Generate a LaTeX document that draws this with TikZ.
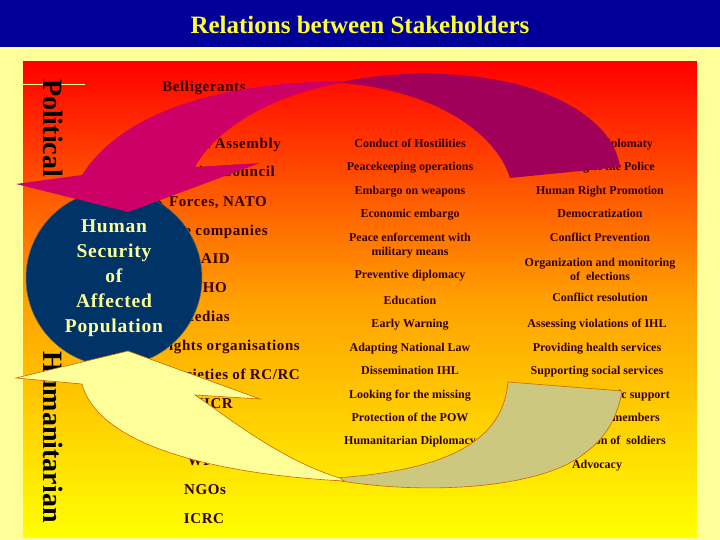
\documentclass[tikz,border=0pt]{standalone}
\usepackage{fontspec}
\setmainfont{Liberation Serif}
\newfontfamily\widefont[LetterSpace=4]{Liberation Serif}
\usepackage{xcolor}

\definecolor{slidebg}{RGB}{255,255,153}
\definecolor{banner}{RGB}{0,0,153}
\definecolor{titleyellow}{RGB}{255,255,51}
\definecolor{ink}{RGB}{51,0,0}
\definecolor{globe}{RGB}{0,51,102}
\definecolor{globetext}{RGB}{255,255,153}
\definecolor{pinkfront}{RGB}{204,0,102}
\definecolor{pinkback}{RGB}{160,0,90}
\definecolor{paleyellow}{RGB}{255,255,153}
\definecolor{khaki}{RGB}{204,200,128}
\definecolor{rim}{RGB}{204,102,0}
\definecolor{midorange}{RGB}{255,160,0}

\begin{document}
\begin{tikzpicture}[x=1pt,y=-1pt,
    stakeholder/.style={font=\widefont\bfseries\fontsize{15}{17}\selectfont, text=ink, inner sep=0pt, yshift=-2.5pt},
    action/.style={font=\bfseries\fontsize{12}{14}\selectfont, text=ink, inner sep=0pt, align=center, yshift=-2pt},
    sidelabel/.style={font=\bfseries\fontsize{28}{30}\selectfont, text=black, rotate=-90, inner sep=0pt}]

  \useasboundingbox (0,0) rectangle (720,540);
  \fill[slidebg] (0,0) rectangle (720,540);
  \fill[banner] (0,0) rectangle (720,47);
  \fill[top color=red, bottom color=yellow, middle color=midorange] (23,62) rectangle (697,537);
  \draw[paleyellow, line width=1pt] (23,85) -- (85,85);

  \node[font=\bfseries\fontsize{25}{28}\selectfont, text=titleyellow] (title) at (360,25) {Relations between Stakeholders};

  \node[sidelabel] (political) at (53,128) {Political};
  \node[sidelabel] (humanitarian) at (53,437) {Humanitarian};

  % stakeholders
  \node[stakeholder, anchor=mid] (belligerants) at (204,87) {Belligerants};
  \node[stakeholder, anchor=mid east] (assembly) at (281,144) {UN General Assembly};
  \node[stakeholder, anchor=mid east] (council) at (275,172) {UN Security Council};
  \node[stakeholder, anchor=mid east] (forces) at (267,202) {UN PK Forces, NATO};
  \node[stakeholder, anchor=mid east] (companies) at (268,231) {Private companies};
  \node[stakeholder, anchor=mid east] (usaid) at (230,259) {USAID};
  \node[stakeholder, anchor=mid east] (echo) at (227,288) {ECHO};
  \node[stakeholder, anchor=mid east] (medias) at (230,317) {Medias};
  \node[stakeholder, anchor=mid east] (hrights) at (300,346) {Human rights organisations};
  \node[stakeholder, anchor=mid east] (societies) at (300,375) {National Societies of RC/RC};
  \node[stakeholder, anchor=mid east] (unhcr) at (233,404) {UNHCR};
  \node[stakeholder, anchor=mid east] (unicef) at (236,432) {UNICEF};
  \node[stakeholder, anchor=mid] (wfp) at (205,461) {WFP};
  \node[stakeholder, anchor=mid] (ngos) at (205,490) {NGOs};
  \node[stakeholder, anchor=mid] (icrc) at (204,519) {ICRC};

  % actions
  \node[action, anchor=mid] (hostilities) at (410,143) {Conduct of Hostilities};
  \node[action, anchor=mid] (peacekeeping) at (410,166) {Peacekeeping operations};
  \node[action, anchor=mid] (weapons) at (410,190) {Embargo on weapons};
  \node[action, anchor=mid] (economic) at (410,213) {Economic embargo};
  \node[action] (enforcement) at (410,244) {Peace enforcement with\\military means};
  \node[action, anchor=mid] (preventive) at (410,274) {Preventive diplomacy};
  \node[action, anchor=mid] (education) at (410,300) {Education};
  \node[action, anchor=mid] (warning) at (410,323) {Early Warning};
  \node[action, anchor=mid] (nationallaw) at (410,347) {Adapting National Law};
  \node[action, anchor=mid] (dissemination) at (410,370) {Dissemination IHL};
  \node[action, anchor=mid] (missing) at (410,394) {Looking for the missing};
  \node[action, anchor=mid] (pow) at (410,417) {Protection of the POW};
  \node[action, anchor=mid] (humdiplomacy) at (410,440) {Humanitarian Diplomacy};

  \node[action, anchor=mid east] (diplomaty) at (653,143) {Political Diplomaty};
  \node[action, anchor=mid east] (police) at (655,166) {Training of the Police};
  \node[action, anchor=mid] (hrpromotion) at (600,190) {Human Right Promotion};
  \node[action, anchor=mid] (democracy) at (600,213) {Democratization};
  \node[action, anchor=mid] (prevention) at (600,237) {Conflict Prevention};
  \node[action] (elections) at (600,267) {Organization and monitoring\\of\ \ elections};
  \node[action, anchor=mid] (resolution) at (600,297) {Conflict resolution};
  \node[action, anchor=mid] (violations) at (597,323) {Assessing violations of IHL};
  \node[action, anchor=mid] (health) at (597,347) {Providing health services};
  \node[action, anchor=mid] (social) at (597,370) {Supporting social services};
  \node[action, anchor=mid east] (support) at (670,394) {Psychologic support};
  \node[action, anchor=mid east] (members) at (660,417) {Reuniting family members};
  \node[action, anchor=mid east] (soldiers) at (666,440) {Demobilization of\ \ soldiers};
  \node[action, anchor=mid] (advocacy) at (597,464) {Advocacy};

  % human security
  \node[circle, minimum size=176pt, inner sep=0pt, fill=globe, draw=black!60, line width=0.5pt,
        align=center, text=globetext, font=\widefont\bfseries\fontsize{19.5}{25}\selectfont]
        (hsec) at (114,278) {Human\\Security\\of\\Affected\\Population};

  % political arrow
  \fill[pinkback] (342,82) .. controls (400,70) and (470,70) .. (530,88)
    .. controls (590,108) and (616,138) .. (620,167) -- (510,178)
    .. controls (495,130) and (430,90) .. (342,83) -- cycle;
  \fill[pinkfront] (342,81) .. controls (250,82) and (130,100) .. (82,175)
    -- (16,184) -- (128,212) -- (260,163) -- (195,167)
    .. controls (215,130) and (270,95) .. (342,83) -- cycle;

  % humanitarian arrow
  \filldraw[fill=khaki, draw=rim, line width=0.6pt] (335,480) .. controls (420,495) and (540,490) .. (585,453)
    .. controls (610,435) and (619,410) .. (622,391) -- (508,382)
    .. controls (503,440) and (450,470) .. (335,478) -- cycle;
  \filldraw[fill=paleyellow, draw=rim, line width=0.6pt] (128,351) -- (16,378) -- (82,384)
    .. controls (100,450) and (230,475) .. (344,481) -- (340,478)
    .. controls (280,460) and (225,415) .. (195,395) -- (260,399) -- cycle;

\end{tikzpicture}
\end{document}
